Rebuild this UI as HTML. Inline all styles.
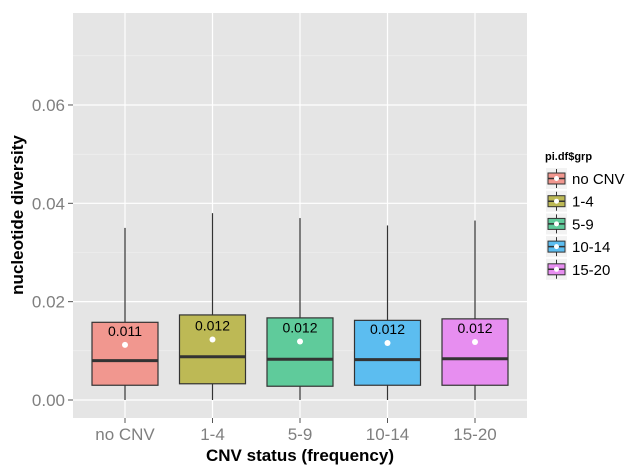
<!DOCTYPE html>
<html><head><meta charset="utf-8"><style>
body{margin:0;background:#fff;font-family:"Liberation Sans",sans-serif}
</style></head><body>
<svg id="c" width="644" height="470" xmlns="http://www.w3.org/2000/svg"></svg>
<script>
const categories=["no CNV","1-4","5-9","10-14","15-20"];
const lowers=[0,0,0,0,0];
const q1s=[0.003,0.0033,0.0028,0.003,0.003];
const medians=[0.008,0.0088,0.0083,0.0082,0.0084];
const q3s=[0.0158,0.0173,0.0167,0.0162,0.0165];
const uppers=[0.035,0.038,0.037,0.0355,0.0365];
const means=[0.0112,0.0123,0.0119,0.0116,0.0118];
const meanLabels=["0.011","0.012","0.012","0.012","0.012"];
const yTicks=[0,0.02,0.04,0.06];
const yTickLabels=["0.00","0.02","0.04","0.06"];
const colors=["#f1978f","#bdb955","#5fcb9b","#5cbdf0","#e78ef0"];
const NS="http://www.w3.org/2000/svg";
const svg=document.getElementById('c');
const L=73,R=527,T=13,B=418;
const y=v=>400-v*4917;
const x=i=>125+i*87.5;
function el(t,a,p){const e=document.createElementNS(NS,t);for(const k in a)e.setAttribute(k,a[k]);(p||svg).appendChild(e);return e;}
let e=el('rect',{x:L,y:T,width:R-L,height:B-T,fill:"#e5e5e5"});

for(let v=0.01;v<0.08;v+=0.02){el('line',{x1:L,x2:R,y1:y(v),y2:y(v),stroke:"#f2f2f2","stroke-width":0.6});}
yTicks.forEach((v,i)=>{
 el('line',{x1:L,x2:R,y1:y(v),y2:y(v),stroke:"#fff","stroke-width":1.2});
 el('line',{x1:L-5,x2:L,y1:y(v),y2:y(v),stroke:"#555"});
 e=el('text',{x:L-8,y:y(v)+6,"text-anchor":"end","font-size":17,fill:"#7f7f7f"});e.textContent=yTickLabels[i];
 
});
categories.forEach((c,i)=>{
 el('line',{x1:x(i),x2:x(i),y1:T,y2:B,stroke:"#fff","stroke-width":1.2});
 el('line',{x1:x(i),x2:x(i),y1:B,y2:B+5,stroke:"#555"});
 e=el('text',{x:x(i),y:B+22,"text-anchor":"middle","font-size":17,fill:"#7f7f7f"});e.textContent=c;
 
});
categories.forEach((c,i)=>{
 const g=el('g',{});
 
 const cx=x(i),w=33;
 el('line',{x1:cx,x2:cx,y1:y(uppers[i]),y2:y(q3s[i]),stroke:"#333","stroke-width":1.2},g);
 el('line',{x1:cx,x2:cx,y1:y(q1s[i]),y2:y(lowers[i]),stroke:"#333","stroke-width":1.2},g);
 el('rect',{x:cx-w,y:y(q3s[i]),width:2*w,height:y(q1s[i])-y(q3s[i]),fill:colors[i],stroke:"#333","stroke-width":1.2},g);
 el('line',{x1:cx-w,x2:cx+w,y1:y(medians[i]),y2:y(medians[i]),stroke:"#333","stroke-width":3},g);
 el('circle',{cx:cx,cy:y(means[i]),r:3,fill:"#fff"},g);
 const t=el('text',{x:cx,y:y(means[i])-9,"text-anchor":"middle","font-size":14,fill:"#000"},g);t.textContent=meanLabels[i];
});
e=el('text',{x:300,y:461,"text-anchor":"middle","font-size":17,"font-weight":"bold"});e.textContent="CNV status (frequency)";

e=el('text',{x:0,y:0,"text-anchor":"middle","font-size":17,"font-weight":"bold",transform:"translate(23,215) rotate(-90)"});e.textContent="nucleotide diversity";

e=el('text',{x:545,y:160,"font-size":11,"font-weight":"bold"});e.textContent="pi.df$grp";

categories.forEach((c,i)=>{
 const g=el('g',{});
 
 const yy=168+i*22.7;
 el('rect',{x:546,y:yy,width:21,height:21,fill:"#f2f2f2"},g);
 el('line',{x1:556.5,x2:556.5,y1:yy+1,y2:yy+20,stroke:"#333"},g);
 el('rect',{x:548,y:yy+5,width:17,height:11,fill:colors[i],stroke:"#333","stroke-width":1},g);
 el('line',{x1:548,x2:565,y1:yy+10.5,y2:yy+10.5,stroke:"#333","stroke-width":1.5},g);
 el('circle',{cx:556.5,cy:yy+10.5,r:2.5,fill:"#fff"},g);
 const t=el('text',{x:572,y:yy+16,"font-size":15},g);t.textContent=c;
});
</script>
</body></html>
